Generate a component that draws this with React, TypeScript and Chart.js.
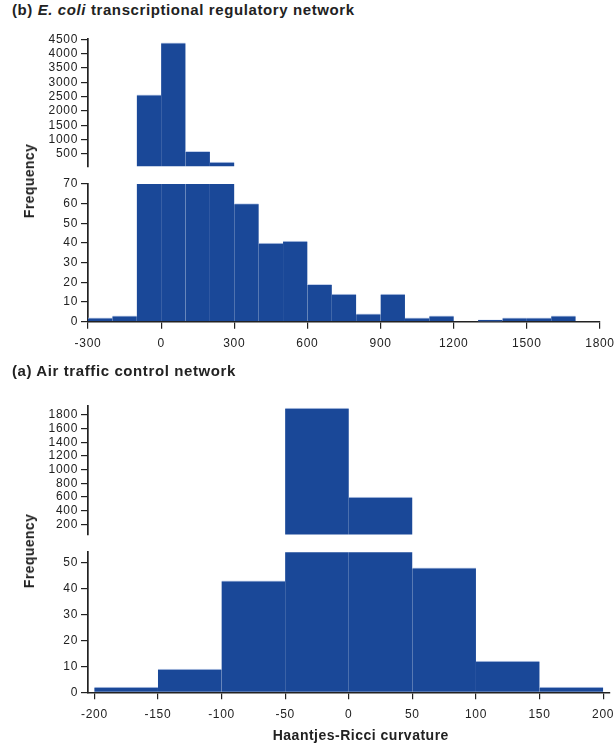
import React, { useEffect, useRef } from "react";
import { Chart, registerables } from "chart.js";

Chart.register(...registerables);

// ---------- Data ----------
// (b) E. coli transcriptional regulatory network
const ecoliBinStarts = [-300, -200, -100, 0, 100, 200, 300, 400, 500, 600, 700, 800, 900, 1000, 1100, 1200, 1300, 1400, 1500, 1600];
const ecoliCounts = [2, 3, 2560, 4380, 590, 220, 60, 40, 41, 19, 14, 4, 14, 2, 3, 0, 1, 2, 2, 3];
const ecoliBinWidth = 100;
const ecoliXTicks = [-300, 0, 300, 600, 900, 1200, 1500, 1800];
const ecoliUpperYTicks = [500, 1000, 1500, 2000, 2500, 3000, 3500, 4000, 4500];
const ecoliLowerYTicks = [0, 10, 20, 30, 40, 50, 60, 70];

// (a) Air traffic control network
const airBinStarts = [-200, -150, -100, -50, 0, 50, 100, 150];
const airCounts = [2, 9, 43, 1900, 600, 48, 12, 2];
const airBinWidth = 50;
const airXTicks = [-200, -150, -100, -50, 0, 50, 100, 150, 200];
const airUpperYTicks = [200, 400, 600, 800, 1000, 1200, 1400, 1600, 1800];
const airLowerYTicks = [0, 10, 20, 30, 40, 50];

// ---------- Styling ----------
const BAR_COLOR = "#1A4898";
const EDGE_COLOR = "rgba(185,200,232,0.85)";
const AXIS_COLOR = "#222";
const FONT = "'Liberation Sans', Arial, Helvetica, sans-serif";
const W = 614;
const Y_AXIS_W = 88;
const TICK_SPACING = "0.7px";

const spacingPlugin = {
  id: "letterSpacing",
  beforeUpdate(chart: any) {
    chart.ctx.letterSpacing = TICK_SPACING;
  },
  beforeDraw(chart: any) {
    chart.ctx.letterSpacing = TICK_SPACING;
  },
};

type HistProps = {
  binStarts: number[];
  counts: number[];
  binWidth: number;
  xMin: number;
  xMax: number;
  yMin: number;
  yMax: number;
  yTicks: number[];
  xTicks: number[];
  showX: boolean;
  areaTop: number;
  areaBottom: number;
  areaRight: number;
};

function Hist(p: HistProps) {
  const ref = useRef<HTMLCanvasElement>(null);
  const xAxisH = p.showX ? 34 : 0;
  const canvasTop = Math.floor(p.areaTop) - 10;
  const canvasH = Math.ceil(p.areaBottom) + xAxisH + 10 - canvasTop;
  const padTop = p.areaTop - canvasTop;
  const padBottom = canvasH - (p.areaBottom - canvasTop) - xAxisH;

  useEffect(() => {
    const visible = (c: any) => c.raw && c.raw.y > p.yMin;
    const chart = new Chart(ref.current as HTMLCanvasElement, {
      type: "bar",
      data: {
        datasets: [
          {
            data: p.binStarts.map((s, i) => ({ x: s + p.binWidth / 2, y: p.counts[i] })),
            backgroundColor: (c: any) => (visible(c) ? BAR_COLOR : "rgba(0,0,0,0)"),
            borderColor: EDGE_COLOR,
            borderWidth: (c: any) =>
              visible(c) ? { top: 1, left: 0, right: 0, bottom: 0 } : 0,
            borderSkipped: false,
            barPercentage: 1,
            categoryPercentage: 1,
            clip: 0,
          } as any,
        ],
      },
      options: {
        responsive: false,
        animation: false,
        devicePixelRatio: 1,
        layout: {
          autoPadding: false,
          padding: { top: padTop, bottom: padBottom, left: 0, right: W - p.areaRight },
        },
        plugins: {
          legend: { display: false },
          tooltip: { enabled: false },
          title: { display: false },
        },
        scales: {
          x: {
            type: "linear",
            display: p.showX,
            min: p.xMin,
            max: p.xMax,
            offset: false,
            position: "bottom",
            afterBuildTicks: (s: any) => {
              s.ticks = p.xTicks.map((v) => ({ value: v }));
            },
            afterFit: (s: any) => {
              s.height = xAxisH;
              s.paddingLeft = 0;
              s.paddingRight = 0;
            },
            border: { display: true, color: AXIS_COLOR, width: 1.5 },
            grid: {
              display: true,
              drawOnChartArea: false,
              drawTicks: true,
              tickLength: 7,
              color: AXIS_COLOR,
              lineWidth: 1.2,
              offset: false,
            },
            ticks: {
              autoSkip: false,
              maxRotation: 0,
              minRotation: 0,
              padding: 8,
              color: AXIS_COLOR,
              font: { family: FONT, size: 12 },
              callback: (v: any) => String(v),
            },
          },
          y: {
            type: "linear",
            position: "left",
            min: p.yMin,
            max: p.yMax,
            beginAtZero: false,
            afterBuildTicks: (s: any) => {
              s.ticks = p.yTicks.map((v) => ({ value: v }));
            },
            afterFit: (s: any) => {
              s.width = Y_AXIS_W;
              s.paddingTop = 0;
              s.paddingBottom = 0;
            },
            border: { display: true, color: AXIS_COLOR, width: 1.7 },
            grid: {
              display: true,
              drawOnChartArea: false,
              drawTicks: true,
              tickLength: 7,
              color: AXIS_COLOR,
              lineWidth: 1.2,
            },
            ticks: {
              autoSkip: false,
              padding: 3,
              color: AXIS_COLOR,
              font: { family: FONT, size: 12 },
              callback: (v: any) => String(v),
            },
          },
        },
      } as any,
      plugins: [spacingPlugin],
    });
    return () => chart.destroy();
  }, []);

  return (
    <canvas
      ref={ref}
      width={W}
      height={canvasH}
      style={{ position: "absolute", left: 0, top: canvasTop, width: W, height: canvasH }}
    />
  );
}

const titleStyle: React.CSSProperties = {
  position: "absolute",
  left: 12,
  fontFamily: FONT,
  fontWeight: "bold",
  fontSize: 15,
  lineHeight: "18px",
  letterSpacing: "0.6px",
  color: AXIS_COLOR,
  whiteSpace: "nowrap",
};

const freqStyle = (cx: number, cy: number): React.CSSProperties => ({
  position: "absolute",
  left: cx,
  top: cy,
  transform: "translate(-50%, -50%) rotate(-90deg)",
  fontFamily: FONT,
  fontWeight: "bold",
  fontSize: 14,
  lineHeight: "16px",
  letterSpacing: "0.4px",
  color: AXIS_COLOR,
  whiteSpace: "nowrap",
});

export default function App() {
  return (
    <div
      style={{
        position: "absolute",
        left: 0,
        top: 0,
        width: W,
        height: 750,
        overflow: "hidden",
        background: "#fff",
      }}
    >
      <div style={{ ...titleStyle, top: 1 }}>
        (b) <i>E. coli</i> transcriptional regulatory network
      </div>
      <Hist
        binStarts={ecoliBinStarts}
        counts={ecoliCounts}
        binWidth={ecoliBinWidth}
        xMin={-300}
        xMax={1800}
        yMin={70}
        yMax={4521}
        yTicks={ecoliUpperYTicks}
        xTicks={ecoliXTicks}
        showX={false}
        areaTop={38.7}
        areaBottom={166.3}
        areaRight={600}
      />
      <Hist
        binStarts={ecoliBinStarts}
        counts={ecoliCounts}
        binWidth={ecoliBinWidth}
        xMin={-300}
        xMax={1800}
        yMin={0}
        yMax={70}
        yTicks={ecoliLowerYTicks}
        xTicks={ecoliXTicks}
        showX={true}
        areaTop={184}
        areaBottom={321.7}
        areaRight={600}
      />
      <div style={freqStyle(29.2, 181)}>Frequency</div>

      <div style={{ ...titleStyle, top: 361.5 }}>(a) Air traffic control network</div>
      <Hist
        binStarts={airBinStarts}
        counts={airCounts}
        binWidth={airBinWidth}
        xMin={-205}
        xMax={205}
        yMin={50}
        yMax={1936}
        yTicks={airUpperYTicks}
        xTicks={airXTicks}
        showX={false}
        areaTop={405.7}
        areaBottom={534.6}
        areaRight={609.5}
      />
      <Hist
        binStarts={airBinStarts}
        counts={airCounts}
        binWidth={airBinWidth}
        xMin={-205}
        xMax={205}
        yMin={0}
        yMax={54}
        yTicks={airLowerYTicks}
        xTicks={airXTicks}
        showX={true}
        areaTop={552.3}
        areaBottom={692.3}
        areaRight={609.5}
      />
      <div style={freqStyle(29.2, 551)}>Frequency</div>
      <div
        style={{
          position: "absolute",
          left: 360.8,
          top: 727,
          transform: "translateX(-50%)",
          fontFamily: FONT,
          fontWeight: "bold",
          fontSize: 14,
          lineHeight: "16px",
          letterSpacing: "0.5px",
          color: AXIS_COLOR,
          whiteSpace: "nowrap",
        }}
      >
        Haantjes-Ricci curvature
      </div>
    </div>
  );
}
